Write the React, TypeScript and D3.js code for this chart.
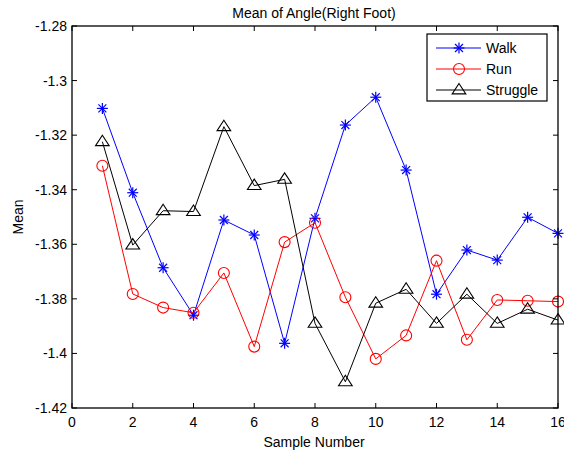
import React from "react";
import * as d3 from "d3";

const samples = d3.range(1, 17);
const walk = [-1.3102, -1.3411, -1.3686, -1.386, -1.3511, -1.3566, -1.3963, -1.3505, -1.3163, -1.3061, -1.3328, -1.3783, -1.3621, -1.3658, -1.3501, -1.356];
const run = [-1.3312, -1.3782, -1.3832, -1.3851, -1.3705, -1.3975, -1.3592, -1.3521, -1.3794, -1.402, -1.3934, -1.366, -1.395, -1.3804, -1.3807, -1.381];
const struggle = [-1.3224, -1.3603, -1.3477, -1.348, -1.3169, -1.3385, -1.3362, -1.389, -1.4104, -1.3816, -1.3765, -1.389, -1.3783, -1.389, -1.3838, -1.3878];
const xTicks = [0, 2, 4, 6, 8, 10, 12, 14, 16];
const yTicks = [-1.28, -1.3, -1.32, -1.34, -1.36, -1.38, -1.4, -1.42];
const yTickLabels = ["-1.28", "-1.3", "-1.32", "-1.34", "-1.36", "-1.38", "-1.4", "-1.42"];

const series = [
  { name: "Walk", values: walk, color: "#0000ff", marker: "star" },
  { name: "Run", values: run, color: "#ff0000", marker: "circle" },
  { name: "Struggle", values: struggle, color: "#000000", marker: "triangle" },
];

const L = 72, R = 558, T = 26, B = 408;
const font = "Liberation Sans, Arial, sans-serif";
const fs = 14;

function Marker({ type, x, y, color }: { type: string; x: number; y: number; color: string }) {
  if (type === "star") {
    const r = 5.5, d = r * 0.72;
    return (
      <g stroke={color} strokeWidth={1.2} fill="none">
        <line x1={x - r} y1={y} x2={x + r} y2={y} />
        <line x1={x} y1={y - r} x2={x} y2={y + r} />
        <line x1={x - d} y1={y - d} x2={x + d} y2={y + d} />
        <line x1={x - d} y1={y + d} x2={x + d} y2={y - d} />
      </g>
    );
  }
  if (type === "circle") {
    return <circle cx={x} cy={y} r={5.5} stroke={color} strokeWidth={1.1} fill="none" />;
  }
  const s = 6.5;
  return (
    <path
      d={`M${x},${y - s}L${x + s * 1.05},${y + s * 0.6}L${x - s * 1.05},${y + s * 0.6}Z`}
      stroke={color}
      strokeWidth={1.1}
      fill="none"
    />
  );
}

export default function App() {
  const x = d3.scaleLinear().domain([0, 16]).range([L, R]);
  const y = d3.scaleLinear().domain([-1.42, -1.28]).range([B, T]);
  const line = d3
    .line<number>()
    .x((_, i) => x(samples[i]))
    .y((v) => y(v));

  const legX = 427, legY = 34, legW = 120, legH = 67;
  const rows = [48, 69, 90];

  return (
    <svg width={564} height={450} style={{ position: "absolute", left: 0, top: 0, background: "#fff" }}>
      <rect x={0} y={0} width={564} height={450} fill="#fff" />
      <text x={314} y={18} textAnchor="middle" fontFamily={font} fontSize={fs}>
        Mean of Angle(Right Foot)
      </text>
      {series.map((s) => (
        <g key={s.name}>
          <path d={line(s.values) || ""} fill="none" stroke={s.color} strokeWidth={1} />
          {s.values.map((v, i) => (
            <Marker key={i} type={s.marker} x={x(samples[i])} y={y(v)} color={s.color} />
          ))}
        </g>
      ))}
      <rect x={L} y={T} width={R - L} height={B - T} fill="none" stroke="#000" strokeWidth={1.3} />
      {xTicks.map((t) => (
        <g key={"x" + t}>
          <line x1={x(t)} x2={x(t)} y1={B} y2={B - 5} stroke="#000" />
          <line x1={x(t)} x2={x(t)} y1={T} y2={T + 5} stroke="#000" />
          <text x={x(t)} y={B + 19} textAnchor="middle" fontFamily={font} fontSize={fs}>
            {t}
          </text>
        </g>
      ))}
      {yTicks.map((t, i) => (
        <g key={"y" + i}>
          <line x1={L} x2={L + 5} y1={y(t)} y2={y(t)} stroke="#000" />
          <line x1={R} x2={R - 5} y1={y(t)} y2={y(t)} stroke="#000" />
          <text x={L - 5} y={y(t) + 5} textAnchor="end" fontFamily={font} fontSize={fs}>
            {yTickLabels[i]}
          </text>
        </g>
      ))}
      <text x={314} y={447} textAnchor="middle" fontFamily={font} fontSize={fs}>
        Sample Number
      </text>
      <text
        transform={`translate(23,${(T + B) / 2}) rotate(-90)`}
        textAnchor="middle"
        fontFamily={font}
        fontSize={fs}
      >
        Mean
      </text>
      <rect x={legX} y={legY} width={legW} height={legH} fill="#fff" stroke="#000" strokeWidth={1.2} />
      {series.map((s, i) => (
        <g key={"leg" + s.name}>
          <line x1={436} x2={481} y1={rows[i]} y2={rows[i]} stroke={s.color} strokeWidth={1} />
          <Marker type={s.marker} x={459} y={rows[i]} color={s.color} />
          <text x={486} y={rows[i] + 5} fontFamily={font} fontSize={fs}>
            {s.name}
          </text>
        </g>
      ))}
    </svg>
  );
}
